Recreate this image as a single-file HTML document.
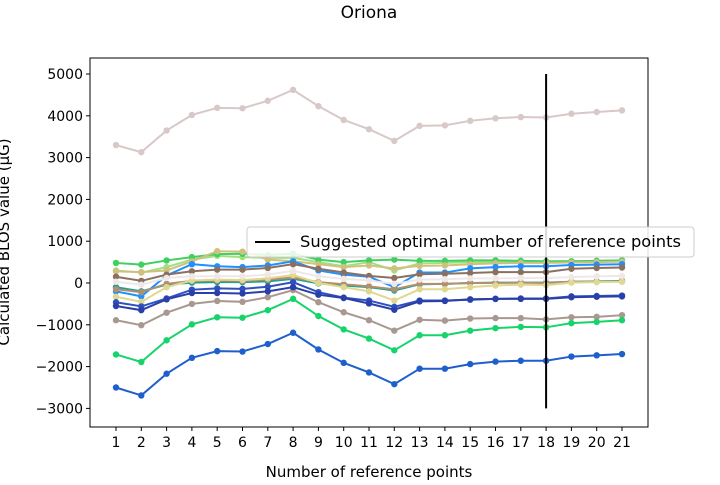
<!DOCTYPE html>
<html><head><meta charset="utf-8"><style>
body{margin:0;background:#fff;font-family:"Liberation Sans","DejaVu Sans",sans-serif}
svg text{font-family:"DejaVu Sans","Liberation Sans",sans-serif}
</style></head><body>
<svg id="chart" width="720" height="480" xmlns="http://www.w3.org/2000/svg">
<text x="369" y="18" font-size="17" text-anchor="middle">Oriona</text>
<g id="grid"></g>
<g id="series"></g>
<rect x="90" y="58" width="558" height="369" fill="none" stroke="#000" stroke-width="1"/>
<g id="axes"></g>
<text x="369" y="477" font-size="15" text-anchor="middle">Number of reference points</text>
<text transform="translate(9,242) rotate(-90)" font-size="15" text-anchor="middle">Calculated BLOS value (μG)</text>
<g>
<rect x="247" y="227" width="447" height="30" fill="#fff" fill-opacity="0.85" stroke="#ccc" rx="3"/>
<line x1="255" y1="242" x2="290" y2="242" stroke="#000" stroke-width="2"/>
<text x="300" y="247" font-size="16.3">Suggested optimal number of reference points</text>
</g>
</svg>
<script>
const categories=[1,2,3,4,5,6,7,8,9,10,11,12,13,14,15,16,17,18,19,20,21];
const yTicks=[-3000,-2000,-1000,0,1000,2000,3000,4000,5000];
const seriesColors=["#a0e080","#40d060","#d0c080","#1e90ff","#20a090","#b09070","#e0d890","#8b7060","#f0e8e8","#a89890","#3050c0","#2a3fa8","#17d36b","#1f5fcc","#d8c8c8"];
const s0=[300,250,380,560,650,620,600,600,500,400,500,300,470,480,500,500,510,510,520,530,540];
const s1=[480,440,540,620,690,700,670,700,560,500,540,560,530,530,540,540,530,520,520,530,540];
const s2=[280,260,300,520,760,750,560,520,450,380,420,350,410,420,450,470,480,480,490,500,510];
const s3=[-200,-320,180,450,400,380,420,520,300,200,150,-100,250,250,350,380,400,400,430,440,450];
const s4=[-100,-200,-40,10,20,20,40,100,-10,-60,-100,-180,-30,-20,0,10,10,10,30,40,50];
const s5=[-150,-220,-20,50,60,50,80,130,20,-30,-80,-150,-20,-20,0,0,10,0,30,30,40];
const s6=[-330,-450,-100,60,80,70,110,190,0,-100,-200,-420,-150,-150,-100,-60,-40,-50,10,20,30];
const s7=[150,50,200,280,320,320,360,450,340,250,170,120,210,220,240,260,260,260,340,360,370];
const s8=[30,-40,120,160,160,160,200,290,160,100,60,-20,80,90,110,110,120,120,140,160,170];
const s9=[-890,-1010,-710,-500,-430,-450,-340,-170,-460,-700,-890,-1140,-880,-900,-850,-840,-840,-870,-820,-810,-770];
const s10=[-460,-560,-370,-160,-130,-140,-90,20,-220,-350,-420,-570,-420,-420,-400,-380,-370,-370,-320,-310,-300];
const s11=[-550,-650,-390,-240,-240,-250,-200,-100,-280,-360,-490,-640,-440,-430,-390,-380,-380,-380,-340,-330,-320];
const s12=[-1710,-1890,-1370,-990,-820,-830,-650,-380,-790,-1110,-1330,-1610,-1250,-1250,-1140,-1080,-1050,-1060,-960,-930,-890];
const s13=[-2500,-2690,-2170,-1790,-1630,-1640,-1460,-1190,-1590,-1910,-2140,-2420,-2050,-2050,-1940,-1880,-1860,-1860,-1760,-1730,-1700];
const s14=[3300,3130,3650,4020,4190,4180,4360,4620,4230,3900,3680,3400,3760,3770,3880,3940,3970,3960,4050,4090,4130];
const allSeries=[s0,s1,s2,s3,s4,s5,s6,s7,s8,s9,s10,s11,s12,s13,s14];
const optimal=18;
const lineRange=[-3000,5000];

const NS="http://www.w3.org/2000/svg";
function xs(c){return 116+(c-1)*(622-116)/20;}
function ys(v){return 283-v*0.0418;}
function mk(t,a,p){const e=document.createElementNS(NS,t);for(const k in a)e.setAttribute(k,a[k]);p.appendChild(e);return e;}
const axes=document.getElementById('axes'),ser=document.getElementById('series');
categories.forEach(c=>{
  const t=mk('line',{x1:xs(c),x2:xs(c),y1:427,y2:431,stroke:'#000'},axes);
  
  
  const l=mk('text',{x:xs(c),y:447,'font-size':14,'text-anchor':'middle'},axes);
  
  
  l.textContent=c;
});
yTicks.forEach(v=>{
  const t=mk('line',{x1:86,x2:90,y1:ys(v),y2:ys(v),stroke:'#000'},axes);
  
  
  const l=mk('text',{x:83,y:ys(v)+5,'font-size':14,'text-anchor':'end'},axes);
  
  
  l.textContent=v<0?'\u2212'+(-v):v;
});
allSeries.forEach((s,i)=>{
  const col=seriesColors[i];
  const g=mk('g',{},ser);
  
  
  const pl=mk('polyline',{points:s.map((v,j)=>xs(categories[j])+','+ys(v)).join(' '),fill:'none',stroke:col,'stroke-width':2},g);
  
  
  s.forEach((v,j)=>{
    const c=mk('circle',{cx:xs(categories[j]),cy:ys(v),r:3.2,fill:col},g);
    
    
  });
});
const vl=mk('line',{x1:xs(optimal),x2:xs(optimal),y1:ys(lineRange[1]),y2:ys(lineRange[0]),stroke:'#000','stroke-width':2},ser);


</script>
</body></html>
